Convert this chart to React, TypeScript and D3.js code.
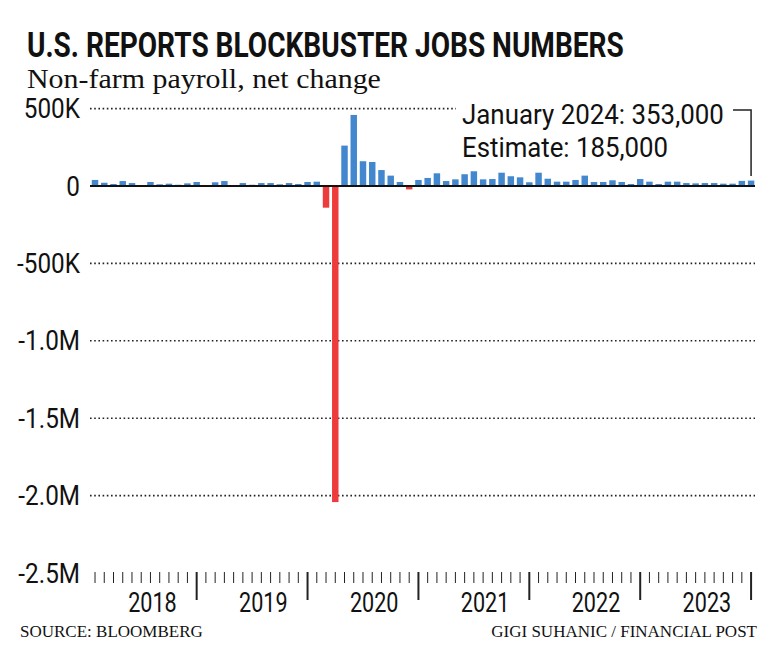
import React, { useLayoutEffect, useRef, useState } from 'react';
import * as d3 from 'd3';

// ---- data (plotted values, in thousands) ----
const v2018 = [39, 21, 13, 32, 19, 4, 26, 11, 15, 8, 17]; // Feb–Dec
const v2019 = [26, 1, 24, 32, 5, 19, 8, 19, 19, 11, 19, 13];
const v2020 = [26, 28, -140, -2042, 261, 459, 160, 155, 103, 67, 26, -22];
const v2021 = [39, 52, 82, 32, 43, 76, 95, 43, 45, 86, 63, 56];
const v2022 = [24, 86, 47, 28, 28, 39, 67, 26, 26, 37, 26, 13];
const v2023 = [45, 28, 13, 28, 28, 19, 17, 19, 19, 15, 15, 33];
const v2024 = [35]; // Jan

const seriesByYear = [
  { year: 2018, startMonth: 1, values: v2018 },
  { year: 2019, startMonth: 0, values: v2019 },
  { year: 2020, startMonth: 0, values: v2020 },
  { year: 2021, startMonth: 0, values: v2021 },
  { year: 2022, startMonth: 0, values: v2022 },
  { year: 2023, startMonth: 0, values: v2023 },
  { year: 2024, startMonth: 0, values: v2024 },
];

const yTickValues = [500, 0, -500, -1000, -1500, -2000, -2500];
const yTickLabels = ['500K', '0', '-500K', '-1.0M', '-1.5M', '-2.0M', '-2.5M'];
const gridValues = [500, -500, -1000, -1500, -2000];
const yearLabels = ['2018', '2019', '2020', '2021', '2022', '2023'];

const titleText = 'U.S. REPORTS BLOCKBUSTER JOBS NUMBERS';
const subtitleText = 'Non-farm payroll, net change';
const annotation1 = 'January 2024: 353,000';
const annotation2 = 'Estimate: 185,000';
const sourceText = 'SOURCE: BLOOMBERG';
const creditText = 'GIGI SUHANIC / FINANCIAL POST';

const W = 768;
const H = 657;
const BLUE = '#4388cf';
const RED = '#ee3b3b';
const SANS = "Roboto, 'Liberation Sans', sans-serif";
const SERIF = "'Liberation Serif', 'DejaVu Serif', serif";

type Datum = { key: string; year: number; month: number; value: number };

const data: Datum[] = seriesByYear.flatMap((s) =>
  s.values.map((v, k) => ({
    key: `${s.year}-${s.startMonth + k + 1}`,
    year: s.year,
    month: s.startMonth + k,
    value: v,
  }))
);

// text squeezed horizontally to a target width (condensed look)
function FitText(props: {
  x: number;
  y: number;
  width: number;
  anchor?: 'start' | 'middle' | 'end';
  family: string;
  size: number;
  weight?: number;
  children: string;
}) {
  const ref = useRef<SVGTextElement>(null);
  const [s, setS] = useState(1);
  useLayoutEffect(() => {
    if (ref.current) {
      const w = ref.current.getComputedTextLength();
      if (w > 0) setS(props.width / w);
    }
  }, [props.width, props.children]);
  return (
    <text
      ref={ref}
      transform={`translate(${props.x},${props.y}) scale(${s},1)`}
      textAnchor={props.anchor ?? 'start'}
      fontFamily={props.family}
      fontSize={props.size}
      fontWeight={props.weight ?? 400}
      fill="#111"
    >
      {props.children}
    </text>
  );
}

function SqText(props: {
  x: number;
  y: number;
  sx: number;
  anchor?: 'start' | 'middle' | 'end';
  size: number;
  children: string;
}) {
  return (
    <text
      transform={`translate(${props.x},${props.y}) scale(${props.sx},1)`}
      textAnchor={props.anchor ?? 'start'}
      fontFamily={SANS}
      fontSize={props.size}
      fill="#111"
    >
      {props.children}
    </text>
  );
}

export default function App() {
  const x = d3
    .scaleBand<string>()
    .domain(data.map((d) => d.key))
    .range([90.4, 755.7])
    .paddingInner(0.3)
    .paddingOuter(0.15);
  const y = d3.scaleLinear().domain([-2500, 500]).range([573, 108.6]);
  const cx = (k: string) => (x(k) ?? 0) + x.bandwidth() / 2;
  const y0 = y(0);

  return (
    <svg
      width={W}
      height={H}
      viewBox={`0 0 ${W} ${H}`}
      style={{ position: 'fixed', left: 0, top: 0, background: '#fff' }}
    >
      <rect x={0} y={0} width={W} height={H} fill="#fff" />
      <FitText x={27} y={57} width={597} family={SANS} size={35} weight={700}>
        {titleText}
      </FitText>
      <FitText x={27} y={88} width={354} family={SERIF} size={28}>
        {subtitleText}
      </FitText>

      {/* gridlines */}
      {gridValues.map((g) => (
        <line
          key={g}
          x1={90}
          x2={755}
          y1={y(g)}
          y2={y(g)}
          stroke="#222"
          strokeWidth={1.6}
          strokeDasharray="1.6,2.6"
        />
      ))}

      {/* y labels */}
      {yTickValues.map((t, i) => (
        <SqText key={t} x={80} y={y(t) + 9.5} sx={0.9} anchor="end" size={27}>
          {yTickLabels[i]}
        </SqText>
      ))}

      {/* bars */}
      {data.map((d) => (
        <rect
          key={d.key}
          x={x(d.key)}
          width={x.bandwidth()}
          y={d.value >= 0 ? y(d.value) : y0}
          height={Math.abs(y(d.value) - y0)}
          fill={d.value >= 0 ? BLUE : RED}
        />
      ))}

      {/* zero line */}
      <line x1={90} x2={755} y1={y0} y2={y0} stroke="#111" strokeWidth={2} />

      {/* x ticks */}
      {data.map((d) => (
        <line
          key={'t' + d.key}
          x1={cx(d.key)}
          x2={cx(d.key)}
          y1={572}
          y2={d.month === 0 ? 600 : 583}
          stroke="#222"
          strokeWidth={d.month === 0 ? 2 : 1}
        />
      ))}
      {yearLabels.map((yl) => (
        <SqText key={yl} x={cx(`${yl}-8`) + 2} y={612} sx={0.8} anchor="middle" size={27}>
          {yl}
        </SqText>
      ))}

      {/* annotation */}
      <rect x={456} y={98} width={302} height={66} fill="#fff" />
      <FitText x={462} y={124} width={262} family={SANS} size={28}>
        {annotation1}
      </FitText>
      <FitText x={462} y={157} width={206} family={SANS} size={28}>
        {annotation2}
      </FitText>
      <polyline
        points={`733,110 ${cx('2024-1')},110 ${cx('2024-1')},176`}
        fill="none"
        stroke="#222"
        strokeWidth={1.5}
      />

      {/* footer */}
      <text x={20} y={637} fontFamily={SERIF} fontSize={17} fill="#111">
        {sourceText}
      </text>
      <text x={757} y={637} textAnchor="end" fontFamily={SERIF} fontSize={17} fill="#111">
        {creditText}
      </text>
    </svg>
  );
}
